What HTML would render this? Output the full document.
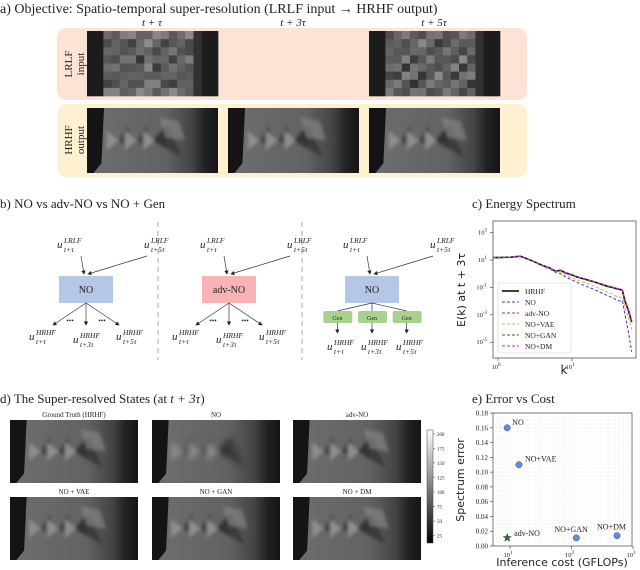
<!DOCTYPE html>
<html><head><meta charset="utf-8">
<style>
body{margin:0;background:#fff;}
#root{position:relative;width:640px;height:570px;overflow:hidden;font-family:"Liberation Serif",serif;color:#222;}
svg{position:absolute;left:0;top:0;}
</style></head><body>
<div id="root">
<svg id="fig" width="640" height="570"></svg>
</div>
<script>
// ---- chart data (c) energy spectrum ----
const kVals=[0.85,1,1.5,2,2.5,3,4,5,6,7,8,10,12,15,20,25,30,35,40,45,48,52,58,64];
const eHRHF=[15,15,16,19,12,8,4,2.6,1.5,1.8,1.2,0.8,0.55,0.4,0.25,0.17,0.12,0.1,0.08,0.07,0.06,0.01,0.002,0.0003];
const eNO=[15,15,16,19,12,8,3.5,2.2,1.2,1.0,0.6,0.35,0.22,0.13,0.07,0.04,0.025,0.018,0.012,0.01,0.011,0.001,0.00005,0.000002];
const eADV=[15,15,16,19,12,8,4,2.6,1.6,1.9,1.3,0.85,0.57,0.42,0.26,0.18,0.13,0.1,0.085,0.075,0.065,0.012,0.0025,0.0004];
const eVAE=[15,15,16,19,12,8,3.8,2.4,1.3,1.3,0.8,0.5,0.33,0.22,0.12,0.07,0.045,0.032,0.022,0.018,0.02,0.003,0.0006,0.00008];
const eGAN=[15,15,16,19,12,8,4,2.6,1.5,1.8,1.2,0.8,0.55,0.4,0.25,0.17,0.12,0.1,0.08,0.07,0.06,0.01,0.002,0.0003];
const eDM=[15,15,16,19,12,8,4.1,2.7,1.6,1.9,1.3,0.85,0.58,0.42,0.27,0.18,0.13,0.11,0.085,0.075,0.065,0.012,0.0025,0.0004];
const yTicksC=[3,1,-1,-3,-5];
const xTicksC=[0,1];
// ---- chart data (e) error vs cost ----
const methods=["NO","NO+VAE","adv-NO","NO+GAN","NO+DM"];
const costs=[9,14,9,120,550];
const errors=[0.16,0.11,0.011,0.011,0.014];
const yTicksE=[0,0.02,0.04,0.06,0.08,0.10,0.12,0.14,0.16,0.18];
const xTicksE=[1,2,3];

const NS="http://www.w3.org/2000/svg";
const svg=document.getElementById('fig');
function mk(tag,at,parent){const e=document.createElementNS(NS,tag);for(const k in at)e.setAttribute(k,at[k]);(parent||svg).appendChild(e);return e;}
function txt(x,y,s,size,at,parent){const e=mk('text',Object.assign({x:x,y:y,'font-size':size,'font-family':'Liberation Serif, serif',fill:'#222'},at||{}),parent);e.textContent=s;return e;}
const defs=mk('defs',{});

// ---------- (a) ----------
let tA=txt(0,13,"a) Objective: Spatio-temporal super-resolution (LRLF input → HRHF output)",14);


let pink=mk('rect',{x:57,y:28,width:470,height:72,rx:9,fill:'#fde3d6'});


let yel=mk('rect',{x:57,y:104,width:470,height:73,rx:9,fill:'#fef1d2'});


const imgX=[87,228,369];
const tLab=["t + τ","t + 3τ","t + 5τ"];
imgX.forEach((x,i)=>{let e=txt(x+65,26,tLab[i],11,{'text-anchor':'middle','font-style':'italic'});

});
let r1=txt(0,0,"LRLF",11,{transform:'translate(72,64) rotate(-90)','text-anchor':'middle'});
let r1b=txt(0,0,"input",11,{transform:'translate(84,64) rotate(-90)','text-anchor':'middle'});
let r2=txt(0,0,"HRHF",11,{transform:'translate(72,140) rotate(-90)','text-anchor':'middle'});
let r2b=txt(0,0,"output",11,{transform:'translate(84,140) rotate(-90)','text-anchor':'middle'});
[r1,r1b,r2,r2b].forEach(e=>{});

const fg=mk('filter',{id:'soft'},defs);mk('feGaussianBlur',{stdDeviation:1.5},fg);
const fg2=mk('filter',{id:'soft2'},defs);mk('feGaussianBlur',{stdDeviation:3},fg2);
function flowImg(x,y,w,h,blur,name){
  const g=mk('g',{});
  
  
  const id='gr'+Math.round(x)+'_'+Math.round(y);
  const lg=mk('linearGradient',{id:id,x1:0,x2:1,y1:0,y2:0},defs);
  mk('stop',{offset:'0','stop-color':'#6e6e6e'},lg);
  mk('stop',{offset:'0.6','stop-color':'#626262'},lg);
  mk('stop',{offset:'0.8','stop-color':'#444'},lg);
  mk('stop',{offset:'0.9','stop-color':'#222'},lg);
  mk('stop',{offset:'1','stop-color':'#151515'},lg);
  mk('rect',{x:x,y:y,width:w,height:h,fill:'url(#'+id+')'},g);
  const inner=mk('g',{filter:blur?'url(#soft2)':'url(#soft)'},g);
  for(let j=0;j<3;j++){const cx=x+w*(0.15+j*0.14),cy=y+h*0.5,s=h*0.15;
    mk('polygon',{points:`${cx},${cy-s} ${cx+s*1.2},${cy} ${cx},${cy+s}`,fill:'#8e8e8e'},inner);
    mk('polygon',{points:`${cx+s*1.2},${cy} ${cx+s*2.2},${cy-s*1.5} ${cx+s*2.4},${cy+s*0.9}`,fill:'#333',opacity:0.7},inner);}
  mk('polygon',{points:`${x+w*0.5},${y+h*0.5} ${x+w*0.62},${y+h*0.25} ${x+w*0.72},${y+h*0.75}`,fill:'#2a2a2a',opacity:0.6},inner);
  if(!blur)mk('polygon',{points:`${x+w*0.55},${y+h*0.15} ${x+w*0.7},${y+h*0.2} ${x+w*0.75},${y+h*0.5} ${x+w*0.6},${y+h*0.45}`,fill:'#8a8a8a',opacity:0.6},inner);
  mk('polygon',{points:`${x},${y} ${x+w*0.13},${y} ${x+w*0.11},${y+h*0.85} ${x+w*0.05},${y+h} ${x},${y+h}`,fill:'#141414'},g);
  return g;
}
function pixImg(x,y,w,h,seed,name){
  const g=mk('g',{});
  
  
  mk('rect',{x:x,y:y,width:w,height:h,fill:'#222'},g);
  const nx=16,ny=8,cw=w/nx,ch=h/ny;
  for(let i=0;i<nx;i++)for(let j=0;j<ny;j++){
    let v=95+25*Math.sin(i*1.7+j*2.3+seed)+20*Math.cos(i*0.9*j+seed);
    if(i<2||i>13)v=28; if(i==13)v=50;
    v=Math.max(20,Math.min(180,v))|0;
    mk('rect',{x:x+i*cw,y:y+j*ch,width:cw+0.3,height:ch+0.3,fill:`rgb(${v},${v},${v})`},g);}
  return g;
}
pixImg(87,31,131,65,0,'lrlf-image-1');
pixImg(369,31,131,65,1.3,'lrlf-image-3');
imgX.forEach((x,i)=>flowImg(x,108,131,65,false,'hrhf-image-'+(i+1)));

// ---------- (b) ----------
let tB=txt(0,208,"b) NO vs adv-NO vs NO + Gen",13);


[158,302].forEach((x,i)=>{let l=mk('line',{x1:x,y1:222,x2:x,y2:360,stroke:'#aaa','stroke-width':1,'stroke-dasharray':'5,4'});

});
const mar=mk('marker',{id:'arr',markerWidth:6,markerHeight:6,refX:5,refY:3,orient:'auto'},defs);
mk('path',{d:'M0,0 L6,3 L0,6 z',fill:'#222'},mar);
function uLab(x,y,sup,sub,name){const g=mk('g',{});
  txt(x,y,"u",11,{'font-style':'italic'},g);txt(x+7,y-5,sup,7.5,{'font-style':'italic'},g);txt(x+7,y+4,sub,7.5,{'font-style':'italic'},g);}
function section(ox,label,color,gen){
  const cx=ox+57;
  uLab(ox+28,248,"LRLF","t+τ",'input-label');uLab(ox+115,248,"LRLF","t+5τ",'input-label');
  mk('line',{x1:ox+52,y1:256,x2:cx-2,y2:274,stroke:'#333','stroke-width':0.7,'marker-end':'url(#arr)'});
  mk('line',{x1:ox+118,y1:256,x2:cx+2,y2:274,stroke:'#333','stroke-width':0.7,'marker-end':'url(#arr)'});
  const b=mk('rect',{x:cx-27,y:276,width:54,height:27,fill:color});
  
  
  txt(cx,293,label,10,{'text-anchor':'middle'});
  const ox3=[-33,0,33];
  if(!gen){
    ox3.forEach(dx=>mk('line',{x1:cx,y1:303,x2:cx+dx,y2:325,stroke:'#333','stroke-width':0.7,'marker-end':'url(#arr)'}));
    [-16,16].forEach(dx=>txt(cx+dx,323,"•••",7,{'text-anchor':'middle'}));
    uLab(cx-57,340,"HRHF","t+τ",'output-label');uLab(cx-13,343,"HRHF","t+3τ",'output-label');uLab(cx+30,340,"HRHF","t+5τ",'output-label');
  } else {
    ox3.forEach((dx,i)=>{mk('line',{x1:cx,y1:303,x2:cx+dx*1.05,y2:311,stroke:'#333','stroke-width':0.7});
      const gb=mk('rect',{x:cx+dx*1.05-14,y:311,width:29,height:12,rx:2,fill:'#a9d18e'});
      
      
      txt(cx+dx*1.05,320,"Gen",6,{'text-anchor':'middle'});
      mk('line',{x1:cx+dx*1.05,y1:323,x2:cx+dx*1.05,y2:333,stroke:'#333','stroke-width':0.7,'marker-end':'url(#arr)'});});
    uLab(cx-45,350,"HRHF","t+τ",'output-label');uLab(cx-11,350,"HRHF","t+3τ",'output-label');uLab(cx+24,350,"HRHF","t+5τ",'output-label');
  }
}
section(29,"NO","#b4c7e7",false);
section(172,"adv-NO","#f8b4b4",false);
section(315,"NO","#b4c7e7",true);

// ---------- (c) energy spectrum ----------
let tC=txt(472,208,"c) Energy Spectrum",13);


const cL=493,cR=636,cT=221,cB=358;
const xC=k=>498+74*Math.log10(k);
const yC=e=>260-13.7*(Math.log10(e)-1);
let cbox=mk('rect',{x:cL,y:cT,width:cR-cL,height:cB-cT,fill:'#fff',stroke:'#555','stroke-width':0.8});


yTicksC.forEach(p=>{const y=yC(Math.pow(10,p));mk('line',{x1:cL-3,y1:y,x2:cL,y2:y,stroke:'#333','stroke-width':0.6});
  const g=txt(cL-6,y+2,"10",6.5,{'text-anchor':'end'});const s=mk('tspan',{dy:-3,'font-size':5},g);s.textContent=p;
  });
xTicksC.forEach(p=>{const x=xC(Math.pow(10,p));mk('line',{x1:x,y1:cB,x2:x,y2:cB+3,stroke:'#333','stroke-width':0.6});
  const g=txt(x-2,cB+11,"10",6.5,{'text-anchor':'middle'});const s=mk('tspan',{dy:-3,'font-size':5},g);s.textContent=p;
  });
let kl=txt(564,374,"k",12,{'text-anchor':'middle','font-family':'DejaVu Sans, sans-serif'});

let el=txt(0,0,"E(k) at t + 3τ",11,{transform:'translate(465,290) rotate(-90)','text-anchor':'middle','font-family':'DejaVu Sans, sans-serif'});

const series=[["HRHF",eHRHF,"#000",null,1.6],["NO",eNO,"#2b3fe8","3,2",1],["adv-NO",eADV,"#e82020","3,2",1],["NO+VAE",eVAE,"#f7a823","3,2",1],["NO+GAN",eGAN,"#1a7a1a","3,2",1],["NO+DM",eDM,"#e020e0","3,2",1]];
const clip=mk('clipPath',{id:'cclip'},defs);mk('rect',{x:cL,y:cT,width:cR-cL,height:cB-cT},clip);
series.forEach(s=>{const pts=kVals.map((k,i)=>xC(k).toFixed(1)+','+yC(s[1][i]).toFixed(1)).join(' ');
  const at={points:pts,fill:'none',stroke:s[2],'stroke-width':s[4],'clip-path':'url(#cclip)'};if(s[3])at['stroke-dasharray']=s[3];
  const p=mk('polyline',at);});
let leg=mk('rect',{x:498,y:283,width:73,height:70,rx:2,fill:'#fff',stroke:'#ccc','stroke-width':0.6,opacity:0.9});

series.forEach((s,i)=>{const y=291+i*11;const at={x1:502,y1:y,x2:519,y2:y,stroke:s[2],'stroke-width':s[4]};if(s[3])at['stroke-dasharray']=s[3];
  const l=mk('line',at);
  txt(525,y+3,s[0],7.5);});

// ---------- (d) ----------
let tD=txt(0,403,"d) The Super-resolved States (at ",13);
const ts=mk('tspan',{'font-style':'italic'},tD);ts.textContent="t + 3τ";const ts2=mk('tspan',{},tD);ts2.textContent=")";

const dNames=[["Ground Truth (HRHF)","NO","adv-NO"],["NO + VAE","NO + GAN","NO + DM"]];
const dX=[10,152,293],dY=[420,497];
dY.forEach((y,r)=>dX.forEach((x,c)=>{flowImg(x,y,128,63,r==0&&c==1,'state-'+dNames[r][c].toLowerCase().replace(/[^a-z]+/g,'-'));
  txt(x+64,y-3,dNames[r][c],7,{'text-anchor':'middle'});}));
const cg=mk('linearGradient',{id:'cbar',x1:0,x2:0,y1:0,y2:1},defs);
mk('stop',{offset:0,'stop-color':'#fff'},cg);mk('stop',{offset:1,'stop-color':'#000'},cg);
let cb=mk('rect',{x:427,y:430,width:6,height:113,fill:'url(#cbar)',stroke:'#444','stroke-width':0.5});

[200,175,150,125,100,75,50,25].forEach((v,i)=>{const y=434+i*14.5;mk('line',{x1:433,y1:y,x2:435,y2:y,stroke:'#444','stroke-width':0.5});txt(437,y+2,String(v),5);});

// ---------- (e) error vs cost ----------
let tE=txt(472,403,"e) Error vs Cost",13);

const eL=493,eR=632,eT=413,eB=546;
const xE=c=>510+61.5*(Math.log10(c)-1);
const yE=v=>eB-(v/0.18)*(eB-eT);
let ebox=mk('rect',{x:eL,y:eT,width:eR-eL,height:eB-eT,fill:'#fff',stroke:'#555','stroke-width':0.8});

for(let v=0.005;v<0.18;v+=0.005){const y=yE(v);mk('line',{x1:eL,y1:y,x2:eR,y2:y,stroke:'#e6e6e6','stroke-width':0.4,'stroke-dasharray':'1,1'});}
for(let p=0;p<3;p++)for(let m=1;m<10;m++){const x=xE(Math.pow(10,p)*m);if(x>eL&&x<eR)mk('line',{x1:x,y1:eT,x2:x,y2:eB,stroke:'#e6e6e6','stroke-width':0.4,'stroke-dasharray':'1,1'});}
yTicksE.forEach(v=>{const y=yE(v);mk('line',{x1:eL-3,y1:y,x2:eL,y2:y,stroke:'#333','stroke-width':0.6});
  const t=txt(eL-5,y+2.5,v.toFixed(2),7,{'text-anchor':'end'});});
xTicksE.forEach(p=>{const x=xE(Math.pow(10,p));mk('line',{x1:x,y1:eB,x2:x,y2:eB+3,stroke:'#333','stroke-width':0.6});
  const g=txt(x-2,eB+11,"10",6.5,{'text-anchor':'middle'});const s=mk('tspan',{dy:-3,'font-size':5},g);s.textContent=p;
  });
let xt=txt(562,566,"Inference cost (GFLOPs)",11,{'text-anchor':'middle','font-family':'DejaVu Sans, sans-serif'});

let yt=txt(0,0,"Spectrum error",11,{transform:'translate(464,480) rotate(-90)','text-anchor':'middle','font-family':'DejaVu Sans, sans-serif'});

const labOff=[[5,-3],[6,-3],[7,-2],[-22,-6],[-20,-6]];
methods.forEach((m,i)=>{const x=xE(costs[i]),y=yE(errors[i]);let p;
  if(m==="adv-NO"){p=mk('text',{x:x,y:y+3,'font-size':10,'text-anchor':'middle',fill:'#1e7a1e',stroke:'#000','stroke-width':0.4});p.textContent="★";}
  else p=mk('circle',{cx:x,cy:y,r:3.2,fill:'#5b8ee6',stroke:'#335','stroke-width':0.4});
  
  
  txt(x+labOff[i][0],y+labOff[i][1],m,8);});
</script>
</body></html>
